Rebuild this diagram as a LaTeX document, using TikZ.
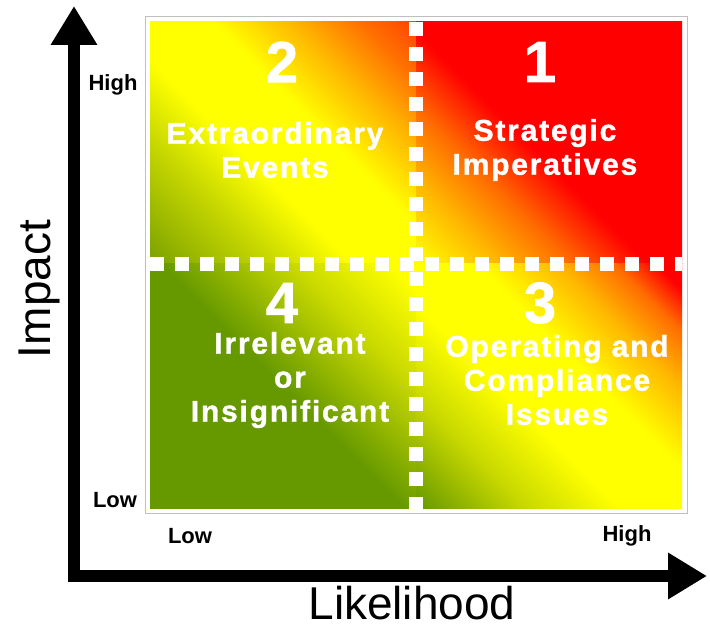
\documentclass[tikz,border=0pt]{standalone}
\usepackage{fontspec}
\setmainfont{Liberation Sans}
\newfontfamily\quadfont{Liberation Sans}[LetterSpace=6,FakeBold=1.2]
\usetikzlibrary{arrows.meta}

\definecolor{qgreen}{RGB}{102,153,0}
\definecolor{qolive}{RGB}{124,162,0}
\definecolor{qlime}{RGB}{200,216,0}
\definecolor{qyellow}{RGB}{255,255,0}
\definecolor{qamber}{RGB}{255,184,0}
\definecolor{qorange}{RGB}{255,110,0}
\definecolor{qred}{RGB}{255,0,0}
\definecolor{qredorange}{RGB}{255,70,0}

% one shading per quadrant, running from its lower left to its upper right corner
% (rotated by 45 degrees the corners sit at about 15bp and 85bp)
\pgfdeclarehorizontalshading{quadone}{100bp}{color(0bp)=(qyellow); color(15bp)=(qyellow);
  color(26bp)=(qamber); color(36bp)=(qorange); color(47bp)=(qred); color(100bp)=(qred)}
\pgfdeclarehorizontalshading{quadtwo}{100bp}{color(0bp)=(qolive); color(15bp)=(qolive);
  color(32bp)=(qlime); color(43bp)=(qyellow); color(57bp)=(qyellow); color(68bp)=(qamber);
  color(78bp)=(qorange); color(85bp)=(qredorange); color(100bp)=(qredorange)}
\pgfdeclarehorizontalshading{quadthree}{100bp}{color(0bp)=(qgreen); color(15bp)=(qgreen);
  color(30bp)=(qlime); color(43bp)=(qyellow); color(57bp)=(qyellow); color(68bp)=(qamber);
  color(76bp)=(qorange); color(82bp)=(qred); color(100bp)=(qred)}
\pgfdeclarehorizontalshading{quadfour}{100bp}{color(0bp)=(qgreen); color(15bp)=(qgreen);
  color(50bp)=(qgreen); color(68bp)=(qlime); color(82bp)=(qyellow); color(100bp)=(qyellow)}

\begin{document}
\begin{tikzpicture}[x=1pt,y=1pt,
    quadnum/.style={text=white,font=\quadfont\bfseries\fontsize{58}{58}\selectfont},
    quadtext/.style={text=white,align=center,font=\quadfont\bfseries\fontsize{30}{34}\selectfont},
    scalelabel/.style={font=\bfseries\fontsize{22}{22}\selectfont},
    axislabel/.style={font=\fontsize{46}{46}\selectfont,inner sep=0pt}]
    \useasboundingbox (0,0) rectangle (710,626);

    % frame and the four shaded quadrants
    \draw[black!25,line width=1pt] (145,112) rectangle (687,609);
    \shade[shading=quadtwo,shading angle=45] (150,362) rectangle (416,604);
    \shade[shading=quadone,shading angle=45] (416,362) rectangle (682,604);
    \shade[shading=quadfour,shading angle=45] (150,117) rectangle (416,362);
    \shade[shading=quadthree,shading angle=45] (416,117) rectangle (682,362);

    % dotted separators
    \coordinate (vtop) at (416,604);
    \coordinate (vbot) at (416,117);
    \coordinate (hleft) at (150,362);
    \coordinate (hright) at (682,362);
    \draw[white,line width=14pt,dash pattern=on 14pt off 11pt] (vtop) -- (vbot);
    \draw[white,line width=14pt,dash pattern=on 14pt off 11pt] (hleft) -- (hright);

    % axes
    \coordinate (ytip) at (74,620);
    \coordinate (origin) at (74,50);
    \coordinate (xtip) at (707,50);
    \draw[line width=12pt,line join=miter,
          {Triangle[length=39pt,width=44pt]}-{Triangle[length=39pt,width=44pt]}]
          (ytip) -- (origin) -- (xtip);

    \node[axislabel,rotate=90,anchor=base] (impact) at (50,337) {Impact};
    \node[axislabel,anchor=base] (likelihood) at (412,6) {Likelihood};
    \node[scalelabel] (yhigh) at (113,541) {High};
    \node[scalelabel] (ylow) at (115,126) {Low};
    \node[scalelabel] (xlow) at (190,90) {Low};
    \node[scalelabel] (xhigh) at (627,90) {High};

    % quadrant captions
    \node[quadnum] (n2) at (282,564) {2};
    \node[quadtext] (t2) at (275,476) {Extraordinary\\Events};
    \node[quadnum] (n1) at (540,564) {1};
    \node[quadtext] (t1) at (545,476) {Strategic\\Imperatives};
    \node[quadnum] (n4) at (282,323) {4};
    \node[quadtext] (t4) at (290,246) {Irrelevant\\or\\Insignificant};
    \node[quadnum] (n3) at (540,323) {3};
    \node[quadtext] (t3) at (557,246) {Operating and\\Compliance\\Issues};
\end{tikzpicture}
\end{document}
